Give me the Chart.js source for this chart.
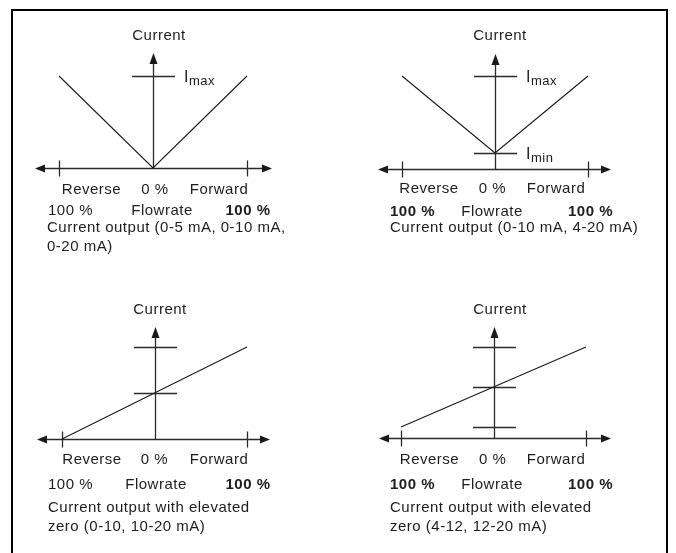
<!DOCTYPE html>
<html><head><meta charset="utf-8">
<script src="https://cdn.jsdelivr.net/npm/chart.js@4/dist/chart.umd.min.js"></script>
<style>
html,body{margin:0;padding:0;background:#fff;width:676px;height:553px;overflow:hidden}
#wrap{position:absolute;left:0;top:0;width:676px;height:553px}
#frame{position:absolute;left:11px;top:9px;width:657px;height:620px;border:2px solid #000;box-sizing:border-box;pointer-events:none}
</style></head><body>
<div id="wrap"><canvas id="c" width="676" height="553"></canvas></div>
<div id="frame"></div>
<script>
// ---------- data ----------
const flowrate = [-100, 0, 100];                 // % flowrate (reverse 100 %, 0 %, forward 100 %)
const current1 = [20, 0, 20];                    // 0-5 / 0-10 / 0-20 mA
const current2 = [20, 4, 20];                    // 0-10 / 4-20 mA
const current3 = [0, 10, 20];                    // elevated zero 0-10, 10-20 mA
const current4 = [4, 12, 20];                    // elevated zero 4-12, 12-20 mA
const marks1 = [20];
const marks2 = [20, 4];
const marks3 = [20, 10];
const marks4 = [20, 12, 4];
const markLabels1 = ['max'];
const markLabels2 = ['max', 'min'];
const markLabels3 = ['', ''];
const markLabels4 = ['', '', ''];
const xTickValues = [-100, 100];
const axisTitle = 'Current';
const directionLabels = ['Reverse', '0 %', 'Forward'];
const flowLabels = ['100 %', 'Flowrate', '100 %'];
const captions1 = ['Current output (0-5 mA, 0-10 mA,', '0-20 mA)'];
const captions2 = ['Current output (0-10 mA, 4-20 mA)'];
const captions3 = ['Current output with elevated', 'zero (0-10, 10-20 mA)'];
const captions4 = ['Current output with elevated', 'zero (4-12, 12-20 mA)'];

// ---------- layout (pixels) ----------
const W = 676, H = 553;
const panels = [
  {series: current1, marks: marks1, markLabels: markLabels1, captions: captions1,
   xPix: [59, 247], yRef: [0, 168, 20, 76], axisY: 168, tipY: 53, arrowX: [35, 272],
   title: [159, 36], row1Y: 190, row1X: [91.5, 155, 219], row2Y: 211, row2X: [70.5, 162, 248],
   bold: [false, false, true], capX: 47, capY: [228, 247], labelX: 184},
  {series: current2, marks: marks2, markLabels: markLabels2, captions: captions2,
   xPix: [402, 588], yRef: [4, 153, 20, 76], axisY: 169, tipY: 54, arrowX: [378, 611],
   title: [500, 36], row1Y: 189, row1X: [429, 492.5, 556], row2Y: 212, row2X: [412.5, 492, 590.5],
   bold: [true, false, true], capX: 390, capY: [228], labelX: 526},
  {series: current3, marks: marks3, markLabels: markLabels3, captions: captions3,
   xPix: [62, 247], yRef: [0, 439, 20, 347], axisY: 439, tipY: 327, arrowX: [37, 270],
   title: [160, 310], row1Y: 460, row1X: [92, 154.5, 219], row2Y: 485, row2X: [70.5, 156, 248],
   bold: [false, false, true], capX: 48, capY: [508, 527], labelX: 0},
  {series: current4, marks: marks4, markLabels: markLabels4, captions: captions4,
   xPix: [401, 586], yRef: [4, 427, 20, 347], axisY: 438, tipY: 327, arrowX: [379, 611],
   title: [500, 310], row1Y: 460, row1X: [429.5, 492.7, 556], row2Y: 485, row2X: [412.5, 492, 590.5],
   bold: [true, false, true], capX: 390, capY: [508, 527], labelX: 0}
];

function xRange(pL, pR) { const k = (pR - pL) / 200; const min = -100 - pL / k; return {min, max: min + W / k}; }
function yRange(vA, pA, vB, pB) { const k = (pA - pB) / (vB - vA); const max = vA + pA / k; return {min: max - H / k, max}; }

const scales = {};
const datasets = [];
panels.forEach((p, i) => {
  const xr = xRange(p.xPix[0], p.xPix[1]);
  const yr = yRange(p.yRef[0], p.yRef[1], p.yRef[2], p.yRef[3]);
  scales['x' + i] = {type: 'linear', display: false, min: xr.min, max: xr.max, position: 'bottom'};
  scales['y' + i] = {type: 'linear', display: false, min: yr.min, max: yr.max, position: 'left'};
  datasets.push({
    data: flowrate.map((f, j) => ({x: f, y: p.series[j]})),
    xAxisID: 'x' + i, yAxisID: 'y' + i,
    showLine: true, borderColor: '#1a1a1a', borderWidth: 1.1, pointRadius: 0, fill: false, clip: false
  });
});

const INK = '#1f1c1d';
const FONT = '"Liberation Sans", Arial, Helvetica, sans-serif';

const diagramPlugin = {
  id: 'diagram',
  beforeDatasetsDraw(chart) {
    const ctx = chart.ctx;
    ctx.save();
    panels.forEach((p, i) => {
      const xs = chart.scales['x' + i], ys = chart.scales['y' + i];
      const x0 = Math.round(xs.getPixelForValue(0)) + 0.5;
      const ay = p.axisY + 0.5;
      ctx.strokeStyle = '#2a2a2a'; ctx.fillStyle = '#1a1a1a'; ctx.lineWidth = 1.3;
      // horizontal axis
      ctx.beginPath(); ctx.moveTo(p.arrowX[0] + 6, ay); ctx.lineTo(p.arrowX[1] - 6, ay); ctx.stroke();
      ctx.beginPath(); ctx.moveTo(p.arrowX[0], ay); ctx.lineTo(p.arrowX[0] + 10, ay - 4); ctx.lineTo(p.arrowX[0] + 10, ay + 4); ctx.closePath(); ctx.fill();
      ctx.beginPath(); ctx.moveTo(p.arrowX[1], ay); ctx.lineTo(p.arrowX[1] - 10, ay - 4); ctx.lineTo(p.arrowX[1] - 10, ay + 4); ctx.closePath(); ctx.fill();
      // x tick marks
      xTickValues.forEach(v => {
        const tx = Math.round(xs.getPixelForValue(v)) + 0.5;
        ctx.beginPath(); ctx.moveTo(tx, ay - 8); ctx.lineTo(tx, ay + 8); ctx.stroke();
      });
      // vertical axis
      ctx.beginPath(); ctx.moveTo(x0, ay); ctx.lineTo(x0, p.tipY + 8); ctx.stroke();
      ctx.beginPath(); ctx.moveTo(x0, p.tipY); ctx.lineTo(x0 - 4, p.tipY + 11); ctx.lineTo(x0 + 4, p.tipY + 11); ctx.closePath(); ctx.fill();
      // current marks
      p.marks.forEach((m, j) => {
        const my = Math.round(ys.getPixelForValue(m)) + 0.5;
        ctx.beginPath(); ctx.moveTo(x0 - 21.5, my); ctx.lineTo(x0 + 21.5, my); ctx.stroke();
      });
    });
    ctx.restore();
  },
  afterDatasetsDraw(chart) {
    const ctx = chart.ctx;
    ctx.save();
    try { ctx.letterSpacing = '0.5px'; } catch (e) {}
    ctx.fillStyle = INK;
    ctx.textBaseline = 'middle';
    panels.forEach((p, i) => {
      const ys = chart.scales['y' + i];
      ctx.font = '15px ' + FONT;
      ctx.textAlign = 'center';
      ctx.fillText(axisTitle, p.title[0], p.title[1]);
      directionLabels.forEach((t, j) => ctx.fillText(t, p.row1X[j], p.row1Y));
      flowLabels.forEach((t, j) => {
        ctx.font = (p.bold[j] ? 'bold ' : '') + '15px ' + FONT;
        ctx.fillText(t, p.row2X[j], p.row2Y);
      });
      ctx.font = '15px ' + FONT;
      ctx.textAlign = 'left';
      p.captions.forEach((t, j) => ctx.fillText(t, p.capX, p.capY[j]));
      p.marks.forEach((m, j) => {
        const lab = p.markLabels[j];
        if (!lab) return;
        const my = ys.getPixelForValue(m) + 1.5;
        ctx.font = '16px ' + FONT;
        ctx.fillText('I', p.labelX, my);
        const w = ctx.measureText('I').width;
        ctx.font = '13px ' + FONT;
        ctx.fillText(lab, p.labelX + w, my + 4);
      });
    });
    ctx.restore();
  }
};

new Chart(document.getElementById('c'), {
  type: 'scatter',
  data: {datasets},
  options: {
    responsive: false, animation: false,
    layout: {padding: 0},
    plugins: {legend: {display: false}, tooltip: {enabled: false}, title: {display: false}},
    scales
  },
  plugins: [diagramPlugin]
});
</script>
</body></html>
